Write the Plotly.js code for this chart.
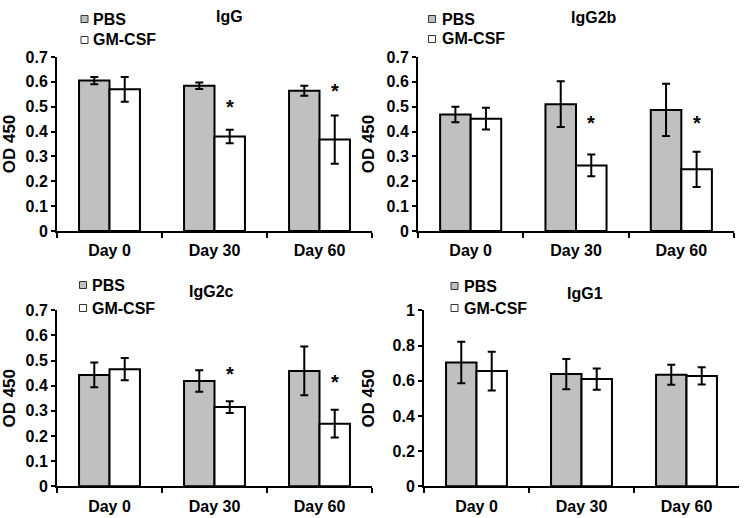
<!DOCTYPE html>
<html><head><meta charset="utf-8">
<script src="https://cdn.plot.ly/plotly-3.0.1.min.js"></script>
<style>html,body{margin:0;padding:0;background:#fff}</style>
</head><body><div id="chart" style="width:750px;height:518px"></div>
<script>
// ---- data ----
const categories = ['Day 0', 'Day 30', 'Day 60'];
const seriesNames = ['PBS', 'GM-CSF'];
const panelTitles = ['IgG', 'IgG2b', 'IgG2c', 'IgG1'];
const yAxisTitle = 'OD 450';

const igG_PBS = [0.605, 0.584, 0.564];
const igG_PBS_err = [0.015, 0.013, 0.020];
const igG_GM = [0.570, 0.380, 0.368];
const igG_GM_err = [0.050, 0.027, 0.097];
const igG_star = [null, 0.513, 0.578];

const igG2b_PBS = [0.469, 0.510, 0.487];
const igG2b_PBS_err = [0.031, 0.092, 0.105];
const igG2b_GM = [0.452, 0.264, 0.248];
const igG2b_GM_err = [0.044, 0.044, 0.071];
const igG2b_star = [null, 0.450, 0.450];

const igG2c_PBS = [0.443, 0.419, 0.459];
const igG2c_PBS_err = [0.049, 0.043, 0.097];
const igG2c_GM = [0.466, 0.315, 0.249];
const igG2c_GM_err = [0.044, 0.023, 0.055];
const igG2c_star = [null, 0.464, 0.430];

const igG1_PBS = [0.703, 0.638, 0.634];
const igG1_PBS_err = [0.118, 0.086, 0.057];
const igG1_GM = [0.655, 0.609, 0.627];
const igG1_GM_err = [0.110, 0.060, 0.049];
const igG1_star = [null, null, null];

const yMax = [0.7, 0.7, 0.7, 1];
const yDtick = [0.1, 0.1, 0.1, 0.2];

// ---- styling / layout ----
const W = 750, H = 518;
const FONT = 'Liberation Sans, Arial, Helvetica, sans-serif';
const colors = ['#c0c0c0', '#ffffff'];
const panels = [
  {pbs: igG_PBS, pbsErr: igG_PBS_err, gm: igG_GM, gmErr: igG_GM_err, star: igG_star},
  {pbs: igG2b_PBS, pbsErr: igG2b_PBS_err, gm: igG2b_GM, gmErr: igG2b_GM_err, star: igG2b_star},
  {pbs: igG2c_PBS, pbsErr: igG2c_PBS_err, gm: igG2c_GM, gmErr: igG2c_GM_err, star: igG2c_star},
  {pbs: igG1_PBS, pbsErr: igG1_PBS_err, gm: igG1_GM, gmErr: igG1_GM_err, star: igG1_star}
];
// pixel boxes of each plot area [left, right, top, bottom]
const boxes = [
  [57, 372, 57, 231],
  [418, 734, 57, 231],
  [57, 372, 310.3, 486.3],
  [424, 739, 310.3, 486.3]
];
const titleStandoffs = [12, 8, 12, 14];
const titlePos = [[229, 16], [594, 17], [211, 291], [585, 293]];
const legendPos = [
  {sq: 84.5, tx: 91, y1: 19, y2: 40},
  {sq: 432, tx: 440, y1: 19, y2: 39},
  {sq: 83, tx: 90, y1: 285, y2: 308},
  {sq: 454.5, tx: 462, y1: 286, y2: 308}
];
const px = x => x / W;
const py = y => 1 - y / H;

const traces = [];
const annotations = [];
const shapes = [];
const layout = {
  width: W, height: H, autosize: false,
  margin: {l: 0, r: 0, t: 0, b: 0},
  paper_bgcolor: '#fff', plot_bgcolor: 'rgba(0,0,0,0)',
  barmode: 'group', bargap: 0.42, bargroupgap: 0,
  showlegend: false,
  font: {family: FONT, size: 16, color: '#000', weight: 700},
  annotations: annotations, shapes: shapes
};

const BAR_OFFSET = 0.145;

panels.forEach((p, i) => {
  const n = i + 1;
  const xa = n === 1 ? 'x' : 'x' + n;
  const ya = n === 1 ? 'y' : 'y' + n;
  const vals = [p.pbs, p.gm];
  const errs = [p.pbsErr, p.gmErr];
  for (let s = 0; s < 2; s++) {
    traces.push({
      type: 'bar', name: seriesNames[s], x: categories, y: vals[s],
      xaxis: xa, yaxis: ya,
      marker: {color: colors[s], line: {color: '#000', width: 2}},
      error_y: {type: 'data', array: errs[s], visible: true, color: '#000', thickness: 2, width: 4},
      hoverinfo: 'x+y+name'
    });
  }
  const b = boxes[i];
  layout['xaxis' + (n === 1 ? '' : n)] = {
    domain: [px(b[0]), px(b[1])], anchor: ya,
    type: 'category', range: [-0.5, 2.5],
    showline: true, linecolor: '#000', linewidth: 2,
    ticks: 'outside', tickson: 'boundaries', ticklen: 5, tickwidth: 2, tickcolor: '#000',
    ticklabelstandoff: 4,
    showgrid: false, zeroline: false, fixedrange: true,
    tickfont: {family: FONT, size: 16, color: '#000', weight: 700}
  };
  layout['yaxis' + (n === 1 ? '' : n)] = {
    domain: [py(b[3]), py(b[2])], anchor: xa,
    range: [0, yMax[i]], dtick: yDtick[i], tick0: 0,
    showline: true, linecolor: '#000', linewidth: 2,
    ticks: 'outside', ticklen: 4, tickwidth: 2, tickcolor: '#000',
    showgrid: false, zeroline: false, fixedrange: true,
    tickfont: {family: FONT, size: 16, color: '#000', weight: 700},
    title: {text: yAxisTitle, standoff: titleStandoffs[i], font: {family: FONT, size: 17, color: '#000', weight: 700}}
  };
  // panel title
  annotations.push({
    xref: 'paper', yref: 'paper', x: px(titlePos[i][0]), y: py(titlePos[i][1]),
    xanchor: 'center', yanchor: 'middle', showarrow: false, text: panelTitles[i],
    font: {family: FONT, size: 16, color: '#000', weight: 700}
  });
  // legend (squares + labels)
  const L = legendPos[i];
  [L.y1, L.y2].forEach((yy, s) => {
    shapes.push({
      type: 'rect', xref: 'paper', yref: 'paper',
      x0: px(L.sq - 3.5), x1: px(L.sq + 3.5), y0: py(yy + 3.5), y1: py(yy - 3.5),
      fillcolor: colors[s], line: {color: '#333', width: 1}
    });
    annotations.push({
      xref: 'paper', yref: 'paper', x: px(L.tx), y: py(yy),
      xanchor: 'left', yanchor: 'middle', showarrow: false, text: seriesNames[s],
      font: {family: FONT, size: 16, color: '#000', weight: 700}
    });
  });
  // significance asterisks
  p.star.forEach((sy, k) => {
    if (sy === null) return;
    annotations.push({
      xref: xa, yref: ya, x: k + BAR_OFFSET, y: sy,
      xanchor: 'center', yanchor: 'middle', yshift: -4, showarrow: false, text: '*',
      font: {family: FONT, size: 20, color: '#000', weight: 700}
    });
  });
});

Plotly.newPlot('chart', traces, layout, {staticPlot: true, displayModeBar: false});
</script>
</body></html>
